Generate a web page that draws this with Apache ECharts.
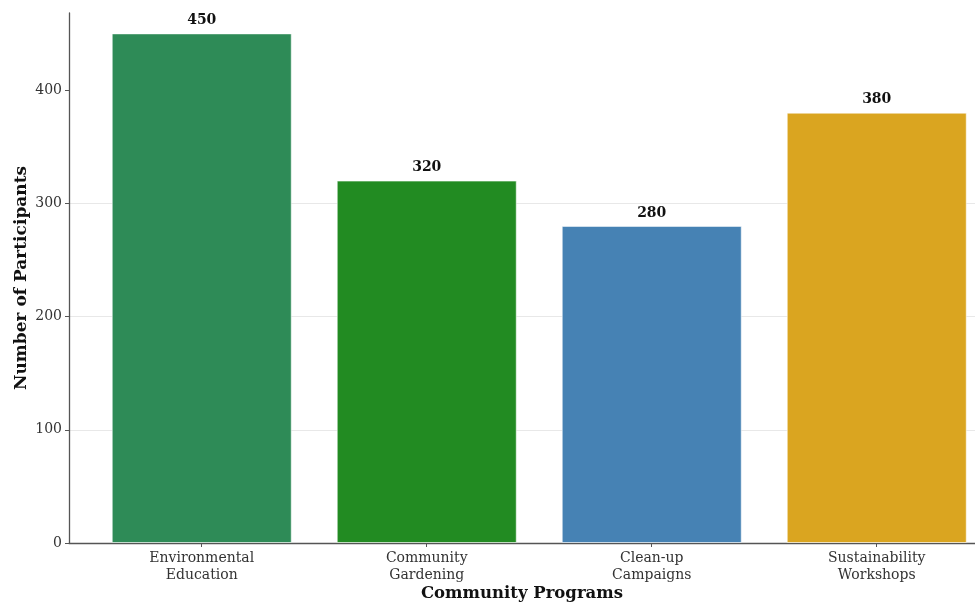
<!DOCTYPE html>
<html>
<head>
<meta charset="utf-8">
<title>Community Programs Participation</title>
<script src="https://cdn.jsdelivr.net/npm/echarts@6/dist/echarts.min.js"></script>
<style>
  html, body { margin: 0; padding: 0; background: #ffffff; }
  #chart { width: 975px; height: 603px; }
</style>
</head>
<body>
<div id="chart"></div>
<script>
// Programs and participant counts
const programs = ['Environmental\nEducation', 'Community\nGardening', 'Clean-up\nCampaigns', 'Sustainability\nWorkshops'];
const participants = [450, 320, 280, 380];
const barColors = ['#2E8B57', '#228B22', '#4682B4', '#DAA520'];
const yTicks = [0, 100, 200, 300, 400];

const positions = programs.map((_, i) => i);
const font = '"DejaVu Serif", "Liberation Serif", serif';

const chart = echarts.init(document.getElementById('chart'), null, { renderer: 'canvas' });

chart.setOption({
  backgroundColor: '#ffffff',
  animation: false,
  grid: { left: 69, right: 0, top: 13, bottom: 60, containLabel: false, outerBoundsMode: 'none' },
  xAxis: {
    type: 'value',
    min: -0.59,
    max: 3.4367,
    name: 'Community Programs',
    nameLocation: 'middle',
    nameGap: 42,
    nameMoveOverlap: false,
    nameTextStyle: { fontFamily: font, fontSize: 16.5, fontWeight: 'bold', color: '#111' },
    axisLine: { show: true, lineStyle: { color: '#555', width: 1.3 } },
    axisTick: { show: true, customValues: positions, length: 4, lineStyle: { color: '#555', width: 1 } },
    axisLabel: {
      customValues: positions,
      formatter: v => programs[Math.round(v)] || '',
      fontFamily: font, fontSize: 14, color: '#333', lineHeight: 17, margin: 7
    },
    splitLine: { show: false }
  },
  yAxis: {
    type: 'value',
    min: 0,
    max: 468,
    interval: 100,
    name: 'Number of Participants',
    nameLocation: 'middle',
    nameGap: 39,
    nameMoveOverlap: false,
    nameTextStyle: { fontFamily: font, fontSize: 17, fontWeight: 'bold', color: '#111' },
    axisLine: { show: true, onZero: false, lineStyle: { color: '#555', width: 1.3 } },
    axisTick: { show: true, customValues: yTicks, length: 4, lineStyle: { color: '#555', width: 1 } },
    axisLabel: { customValues: yTicks, fontFamily: font, fontSize: 14, color: '#333', margin: 7 },
    splitLine: { show: true, showMaxLine: false, lineStyle: { color: '#e8e8e8', width: 1 } }
  },
  series: [{
    type: 'bar',
    barWidth: 180,
    data: participants.map((v, i) => ({
      value: [i, v],
      itemStyle: { color: barColors[i], borderColor: 'rgba(255,255,255,0.55)', borderWidth: 1 }
    })),
    label: {
      show: true,
      position: 'top',
      distance: 6,
      formatter: p => p.value[1],
      fontFamily: font, fontSize: 14, fontWeight: 'bold', color: '#111'
    }
  }]
});
</script>
</body>
</html>
